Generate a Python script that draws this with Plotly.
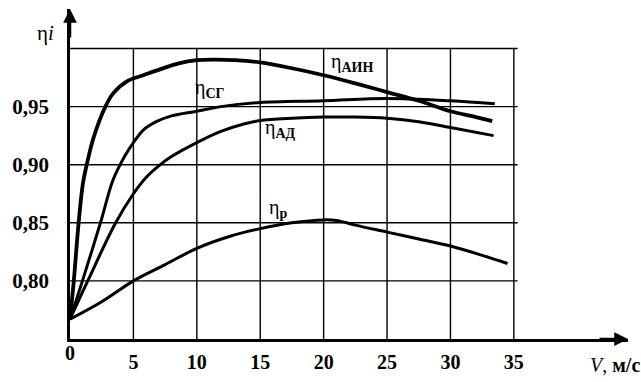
import plotly.graph_objects as go

# ---- data ----
x_ain = [0, 0.3, 0.68, 1.02, 1.32, 1.85, 2.79, 3.42, 4.52, 5.78, 7.2, 8.5, 10, 11.5, 13, 15, 17.5, 20, 22.5, 25, 27.5, 30, 32, 33.3]
y_ain = [0.767, 0.80, 0.85, 0.884, 0.90, 0.923, 0.95, 0.9616, 0.972, 0.977, 0.9825, 0.987, 0.990, 0.9905, 0.990, 0.988, 0.983, 0.977, 0.970, 0.9625, 0.955, 0.946, 0.941, 0.9375]

x_sg = [0, 0.98, 2.4, 3.4, 4.3, 5.0, 5.8, 6.8, 8.0, 10, 11.9, 15, 20, 25, 30, 33.5]
y_sg = [0.767, 0.80, 0.85, 0.887, 0.907, 0.919, 0.930, 0.937, 0.942, 0.946, 0.950, 0.9535, 0.955, 0.957, 0.955, 0.9525]

x_ad = [0, 1.4, 3.6, 5.0, 6.0, 7.0, 8.0, 10, 11.9, 13.7, 15, 17.5, 20, 22.5, 25, 27.5, 30, 33.4]
y_ad = [0.767, 0.80, 0.85, 0.875, 0.889, 0.899, 0.907, 0.919, 0.9286, 0.935, 0.938, 0.940, 0.941, 0.941, 0.940, 0.937, 0.932, 0.925]

x_p = [0, 2.5, 5, 7.5, 10, 12.5, 15, 17.5, 20, 21, 22.5, 25, 27.5, 30, 32.5, 34.5]
y_p = [0.767, 0.782, 0.80, 0.814, 0.828, 0.838, 0.845, 0.850, 0.8525, 0.852, 0.848, 0.842, 0.836, 0.830, 0.822, 0.815]

x_ticks = [5, 10, 15, 20, 25, 30, 35]
x_ticktext = ["5", "10", "15", "20", "25", "30", "35"]
y_ticks = [0.80, 0.85, 0.90, 0.95]
y_ticktext = ["0,80", "0,85", "0,90", "0,95"]
y_grid = [0.80, 0.85, 0.90, 0.95, 1.00]

labels = ["η<sub><b>АИН</b></sub>", "η<sub><b>СГ</b></sub>", "η<sub><b>АД</b></sub>", "η<sub><b>р</b></sub>"]
label_x = [22.2, 11.0, 16.6, 16.4]
label_y = [0.988, 0.966, 0.931, 0.862]

FONT = "Liberation Serif"
X0, X1 = 0, 44.0
Y0, Y1 = 0.75, 1.034

fig = go.Figure()
series = [(x_ain, y_ain, 3.8), (x_sg, y_sg, 3.0), (x_ad, y_ad, 3.0), (x_p, y_p, 3.0)]
for xs, ys, w in series:
    fig.add_trace(go.Scatter(x=xs, y=ys, mode="lines",
                             line=dict(color="black", width=w, shape="spline", smoothing=1.0),
                             showlegend=False, hoverinfo="skip"))

# grid limited to the drawn frame
for xv in x_ticks:
    fig.add_shape(type="line", x0=xv, x1=xv, y0=Y0, y1=y_grid[-1],
                  line=dict(color="black", width=1.4), layer="below")
for yv in y_grid:
    fig.add_shape(type="line", x0=0, x1=x_ticks[-1] + 0.3, y0=yv, y1=yv,
                  line=dict(color="black", width=1.4), layer="below")

for t, lx, ly in zip(labels, label_x, label_y):
    fig.add_annotation(x=lx, y=ly, text=t, showarrow=False,
                       font=dict(family=FONT, size=20, color="black"))

# axis arrows
fig.add_annotation(x=1, y=0, xref="paper", yref="paper", ax=-30, ay=0, text="",
                   showarrow=True, arrowhead=2, arrowsize=1.1, arrowwidth=2.5, arrowcolor="black")
fig.add_annotation(x=0, y=1, xref="paper", yref="paper", ax=0, ay=30, text="",
                   showarrow=True, arrowhead=2, arrowsize=1.1, arrowwidth=2.5, arrowcolor="black")

# axis titles / origin
fig.add_annotation(x=0, y=0, xref="paper", yref="paper", xshift=-7, yshift=-27, text="<b>0</b>",
                   showarrow=False, font=dict(family=FONT, size=20, color="black"))
fig.add_annotation(x=1, y=0, xref="paper", yref="paper", xanchor="right", yanchor="top",
                   xshift=14, yshift=-13, text="<i>V</i>, <b>м/с</b>",
                   showarrow=False, font=dict(family=FONT, size=20, color="black"))
fig.add_annotation(x=0, y=1, xref="paper", yref="paper", xanchor="right", yanchor="top",
                   xshift=-14, yshift=-10, text="η<i>i</i>",
                   showarrow=False, font=dict(family=FONT, size=21, color="black"))

fig.update_layout(
    width=641, height=382,
    margin=dict(l=70, r=13, t=9, b=39),
    paper_bgcolor="white", plot_bgcolor="white",
    font=dict(family=FONT, color="black"),
    xaxis=dict(range=[X0, X1], showgrid=False, zeroline=False, showline=True,
               linecolor="black", linewidth=2.5, tickmode="array", tickvals=x_ticks,
               ticktext=["<b>%s</b>" % t for t in x_ticktext], ticks="",
               ticklabelstandoff=3,
               tickfont=dict(family=FONT, size=20, color="black")),
    yaxis=dict(range=[Y0, Y1], showgrid=False, zeroline=False, showline=True,
               linecolor="black", linewidth=2.5, tickmode="array", tickvals=y_ticks,
               ticktext=["<b>%s</b>" % t for t in y_ticktext], ticks="",
               ticklabelstandoff=14,
               tickfont=dict(family=FONT, size=21, color="black")),
)

fig.write_html("out.html", config={"displayModeBar": False},
               post_script="document.body.style.margin='0';")
